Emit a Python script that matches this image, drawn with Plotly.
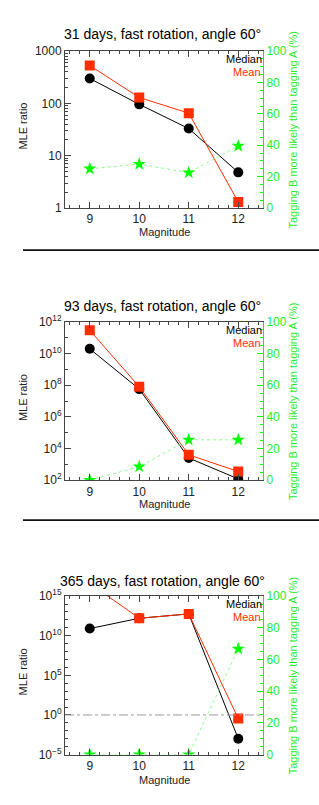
import plotly.graph_objects as go

magnitudes = [9, 10, 11, 12]

titles = ["31 days, fast rotation, angle 60°",
          "93 days, fast rotation, angle 60°",
          "365 days, fast rotation, angle 60°"]

median_31 = [300, 96, 33, 4.8]
mean_31 = [530, 130, 65, 1.3]
tagB_31 = [25, 28, 22.5, 39.5]

median_93 = [2e10, 5.7e7, 2.5e3, 120]
mean_93 = [3e11, 8e7, 4e3, 350]
tagB_93 = [0, 8.5, 25.5, 25.5]

median_365 = [8e10, 1.6e12, 5.6e12, 1e-3]
mean_365 = [4e16, 1.6e12, 5.6e12, 0.35]
tagB_365 = [0, 0, 0, 66.7]

ytickvals = [[1, 10, 100, 1000],
             [1e2, 1e4, 1e6, 1e8, 1e10, 1e12],
             [1e-5, 1, 1e5, 1e10, 1e15]]
yticktext = [["1", "10", "100", "1000"],
             ["10<sup>2</sup>", "10<sup>4</sup>", "10<sup>6</sup>", "10<sup>8</sup>", "10<sup>10</sup>", "10<sup>12</sup>"],
             ["10<sup>−5</sup>", "10<sup>0</sup>", "10<sup>5</sup>", "10<sup>10</sup>", "10<sup>15</sup>"]]
yranges = [[0, 3], [2, 12], [-5, 15]]
right_ticks = [0, 20, 40, 60, 80, 100]

medians = [median_31, median_93, median_365]
means = [mean_31, mean_93, mean_365]
tags = [tagB_31, tagB_93, tagB_365]

W, H = 319, 805
boxes = [(43, 203), (319.3, 480.7), (599, 760.7)]
xl, xr = 65, 263
title_y = [25, 303, 584]
mag_y = [228, 505, 787]

RED = "rgb(255,45,0)"
GREEN = "rgb(0,255,0)"
GREEN_L = "rgb(140,255,140)"
GREEN_T = "rgb(40,235,40)"
FONT = "Liberation Sans, Arial, sans-serif"


def py(p):
    return 1 - p / H


fig = go.Figure()
layout = dict(width=W, height=H, margin=dict(l=0, r=0, t=0, b=0),
              paper_bgcolor="white", plot_bgcolor="white", showlegend=False,
              font=dict(family=FONT, size=11, color="black"))
annotations = []
shapes = []

for i in range(3):
    n = i + 1
    xa = "x" if n == 1 else f"x{n}"
    ya = "y" if n == 1 else f"y{n}"
    yr_id = 3 + n
    yr = f"y{yr_id}"
    top, bot = boxes[i]
    dom_y = [py(bot), py(top)]
    dom_x = [xl / W, xr / W]

    lo, hi = yranges[i]
    if i == 0:
        minor_vals = [k * 10.0 ** e for e in range(lo, hi) for k in range(2, 10)]
    else:
        minor_vals = [10.0 ** e for e in range(lo, hi + 1)]

    layout[f"xaxis{'' if n == 1 else n}"] = dict(
        domain=dom_x, anchor=ya, range=[8.5, 12.5],
        tickmode="array", tickvals=magnitudes, ticktext=[str(m) for m in magnitudes],
        ticks="inside", ticklen=6, tickcolor="#444", showline=True, linecolor="#444",
        linewidth=1, mirror="ticks", showgrid=False, zeroline=False,
        tickfont=dict(size=12, color="#222"),
        minor=dict(ticks="inside", ticklen=3, tickcolor="#444", dtick=0.2, tick0=8.6),
    )
    layout[f"yaxis{'' if n == 1 else n}"] = dict(
        domain=dom_y, anchor=xa, type="log", range=yranges[i],
        tickmode="array", tickvals=ytickvals[i], ticktext=yticktext[i],
        ticks="inside", ticklen=6, tickcolor="#444", showline=True, linecolor="#444",
        linewidth=1, showgrid=False, zeroline=False,
        tickfont=dict(size=12, color="#222"),
        minor=dict(ticks="inside", ticklen=3, tickcolor="#444", tickmode="array",
                   tickvals=minor_vals),
    )
    layout[f"yaxis{yr_id}"] = dict(
        domain=dom_y, anchor=xa, overlaying=ya, side="right", range=[0, 100],
        tickmode="array", tickvals=right_ticks,
        ticks="inside", ticklen=6, tickcolor=GREEN, showline=True, linecolor=GREEN,
        linewidth=1, showgrid=False, zeroline=False,
        tickfont=dict(size=12, color=GREEN_T),
        minor=dict(ticks="inside", ticklen=3, tickcolor=GREEN, dtick=5),
    )

    fig.add_trace(go.Scatter(x=magnitudes, y=tags[i], xaxis=xa, yaxis=yr,
                             mode="lines+markers",
                             line=dict(color=GREEN_L, width=1, dash="dot"),
                             marker=dict(symbol="star", size=10, color=GREEN)))
    fig.add_trace(go.Scatter(x=magnitudes, y=medians[i], xaxis=xa, yaxis=ya,
                             mode="lines+markers", line=dict(color="black", width=1),
                             marker=dict(symbol="circle", size=10, color="black")))
    fig.add_trace(go.Scatter(x=magnitudes, y=means[i], xaxis=xa, yaxis=ya,
                             mode="lines+markers", line=dict(color=RED, width=1),
                             marker=dict(symbol="square", size=10, color=RED)))

    annotations.append(dict(text=titles[i], x=162 / W, y=py(title_y[i]), xref="paper", yref="paper",
                            showarrow=False, xanchor="center", yanchor="middle",
                            font=dict(size=14, color="black")))
    annotations.append(dict(text="Magnitude", x=(xl + xr) / 2 / W, y=py(mag_y[i]), xref="paper",
                            yref="paper", showarrow=False, xanchor="center", yanchor="middle",
                            font=dict(size=11, color="#222")))
    annotations.append(dict(text="MLE ratio", x=23 / W, y=py((top + bot) / 2 - 3), xref="paper",
                            yref="paper", showarrow=False, textangle=-90, xanchor="center",
                            yanchor="middle", font=dict(size=11, color="#222")))
    annotations.append(dict(text="Tagging B more likely than tagging A (%)", x=293 / W,
                            y=py((top + bot) / 2), xref="paper", yref="paper",
                            showarrow=False, textangle=-90, xanchor="center", yanchor="middle",
                            font=dict(size=11, color=GREEN_T)))
    annotations.append(dict(text="Median", x=xr / W, y=py(top + 1), xref="paper", yref="paper",
                            showarrow=False, xanchor="right", yanchor="top", borderpad=0,
                            font=dict(size=11, color="black")))
    annotations.append(dict(text="Mean", x=(xr - 1) / W, y=py(top + 14), xref="paper",
                            yref="paper", showarrow=False, xanchor="right", yanchor="top",
                            borderpad=0, font=dict(size=11, color=RED)))

shapes.append(dict(type="line", xref="x3 domain", yref="y3", x0=0, x1=1, y0=1, y1=1,
                   line=dict(color="#999", width=1, dash="dashdot")))
for sy in [246, 521.5]:
    shapes.append(dict(type="line", xref="paper", yref="paper", x0=23 / W, x1=1,
                       y0=py(sy), y1=py(sy), line=dict(color="#111", width=1.6)))

layout["annotations"] = annotations
layout["shapes"] = shapes
fig.update_layout(**layout)
fig.write_html("out.html", config={"displayModeBar": False},
               post_script="document.body.style.margin='0';document.body.style.overflow='hidden';")
